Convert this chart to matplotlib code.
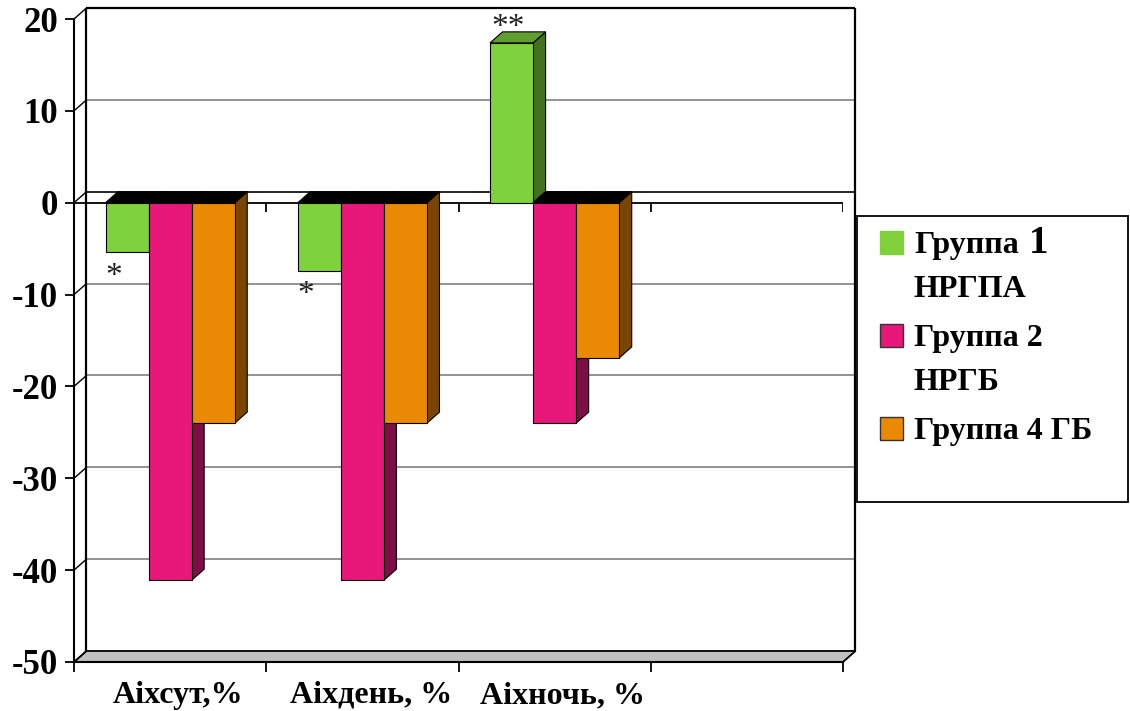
import matplotlib

matplotlib.use("Agg")
import matplotlib.pyplot as plt  # noqa: E402
from matplotlib.patches import Polygon, Rectangle  # noqa: E402

# data
categories = ["Аіхсут,%", "Аіхдень, %", "Аіхночь, %"]
series_names = ["Группа 1\nНРГПА", "Группа 2\nНРГБ", "Группа 4 ГБ"]
group1 = [-5.4, -7.4, 17.4]
group2 = [-41.1, -41.1, -24.0]
group4 = [-24.0, -24.0, -16.9]
marks = ["*", "*", "**"]          # significance marks on group 1
yticks = [-50, -40, -30, -20, -10, 0, 10, 20]

# colours: front, side, top
front_cols = ["#80d23c", "#e8177a", "#ea8a04"]
side_cols = ["#42701f", "#7d0e48", "#7a4500"]
top_cols = ["#5e9e2e", "#a0105c", "#b06a00"]

W, H = 1130, 711
SERIF = "Liberation Serif"
DX, DY = 0.065, 1.2                # 3-D depth offset (category units, value units)
N_SLOTS = 4

fig = plt.figure(figsize=(W / 100, H / 100), dpi=100)
ax = fig.add_axes([74 / W, 1 - 662 / H, (843 - 74) / W, (662 - 19) / H])
ax.set_xlim(0, N_SLOTS)
ax.set_ylim(yticks[0], yticks[-1])


def seg(xs, ys, **kw):
    ax.plot(xs, ys, clip_on=False, solid_capstyle="butt", **kw)


# back wall, side wall and floor
lo, hi = yticks[0], yticks[-1]
floor = Polygon([(0, lo), (N_SLOTS, lo), (N_SLOTS + DX, lo + DY), (DX, lo + DY)],
                closed=True, facecolor="#c0c0c0", edgecolor="black", lw=1.3,
                zorder=1, clip_on=False)
ax.add_patch(floor)
for v in yticks[1:-1]:
    seg([DX, N_SLOTS + DX], [v + DY, v + DY],
        color="black" if v == 0 else "#808080", lw=1.2, zorder=1)
for v in yticks:
    seg([0, DX], [v, v + DY], color="black", lw=1.0, zorder=1)
seg([DX, N_SLOTS + DX], [hi + DY, hi + DY], color="black", lw=1.6, zorder=1)
seg([DX, DX], [lo + DY, hi + DY], color="black", lw=1.6, zorder=1)
seg([N_SLOTS + DX, N_SLOTS + DX], [lo + DY, hi + DY], color="black", lw=1.6, zorder=1)

# front zero line with category ticks
seg([0, N_SLOTS], [0, 0], color="black", lw=1.3, zorder=2)
ax.vlines(range(N_SLOTS + 1), -1.0, 0, color="black", lw=1.3, zorder=2)

# bars
series = [group1, group2, group4]
w = 0.224
for i in range(len(categories)):
    for j, vals in enumerate(series):
        v = vals[i]
        x0 = i + 0.5 + (j - 1) * w - w / 2
        x1 = x0 + w
        ax.add_patch(Polygon([(x1, 0), (x1, v), (x1 + DX, v + DY), (x1 + DX, DY)],
                             closed=True, facecolor=side_cols[j],
                             edgecolor="black", lw=0.8, zorder=3))
        if v < 0:
            top = [(x0, 0), (x1, 0), (x1 + DX, DY), (x0 + DX, DY)]
            tc = "black"
        else:
            top = [(x0, v), (x1, v), (x1 + DX, v + DY), (x0 + DX, v + DY)]
            tc = top_cols[j]
        ax.add_patch(Polygon(top, closed=True, facecolor=tc,
                             edgecolor="black", lw=0.8, zorder=3))
        ax.bar(x0, v, width=w, align="edge", color=front_cols[j],
               edgecolor="black", lw=0.8, zorder=3)

# significance marks
for i, m in enumerate(marks):
    v = group1[i]
    xc = i + 0.5 - w
    if v < 0:
        ax.text(xc - 0.07, v - 1.0, m, ha="center", va="top", fontsize=24,
                family=SERIF, color="#222222", zorder=5)
    else:
        ax.text(xc - 0.02, v + DY - 1.2, m, ha="center", va="bottom",
                fontsize=24, family=SERIF, color="#222222", zorder=5)

# axes, ticks and labels
for s in ["top", "right"]:
    ax.spines[s].set_visible(False)
ax.spines["left"].set_linewidth(1.5)
ax.spines["bottom"].set_linewidth(1.5)
ax.set_yticks(yticks)
ax.set_yticklabels([str(t) for t in yticks], fontsize=25, fontweight="bold",
                   family=SERIF)
ax.tick_params(axis="y", direction="out", length=6.5, width=1.3, pad=5)
ax.set_xticks(range(N_SLOTS + 1))
ax.set_xticklabels([])
ax.tick_params(axis="x", direction="out", length=7, width=1.3)
for i, lab in enumerate(categories):
    ax.annotate(lab, (i + 0.5, lo), xytext=(6, -29.5), textcoords="offset points",
                ha="center", va="baseline", fontsize=23, fontweight="bold",
                family=SERIF, annotation_clip=False)


# legend (drawn by hand, figure pixel coords)
def fx(x):
    return x / W


def fy(y):
    return 1 - y / H


renderer = fig.canvas.get_renderer()
fig.patches.append(Rectangle((fx(857), fy(502)), fx(1128) - fx(857), fy(216) - fy(502),
                             transform=fig.transFigure, facecolor="white",
                             edgecolor="black", lw=1.3))
base = 253
for j, name in enumerate(series_names):
    fig.patches.append(Rectangle((fx(880), fy(base + 1)), fx(23), 23 / H,
                                 transform=fig.transFigure, facecolor=front_cols[j],
                                 edgecolor=front_cols[j] if j == 0 else "#333333",
                                 lw=1.0))
    lines = name.split("\n")
    for k, line in enumerate(lines):
        if line.endswith(" 1"):
            # the "1" is set a size larger in the original legend
            t = fig.text(fx(914), fy(base), line[:-2], fontsize=23, fontweight="bold",
                         family=SERIF, va="baseline", ha="left")
            bb = t.get_window_extent(renderer)
            fig.text(fx(bb.x1 + 10), fy(base), "1", fontsize=28, fontweight="bold",
                     family=SERIF, va="baseline", ha="left")
        else:
            fig.text(fx(914), fy(base), line, fontsize=23, fontweight="bold",
                     family=SERIF, va="baseline", ha="left")
        if k < len(lines) - 1:
            base += 44
    base += 49

fig.savefig("out.png", dpi=100)
